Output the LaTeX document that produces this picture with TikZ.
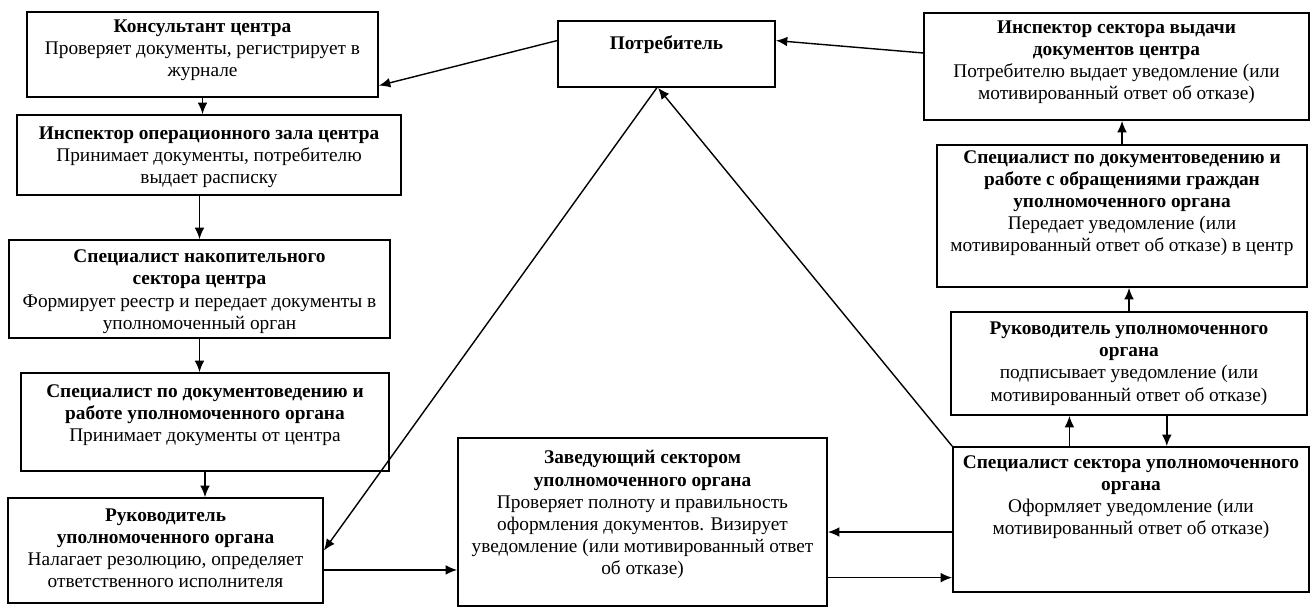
\documentclass[tikz,border=0pt]{standalone}
\usepackage{fontspec}
\setmainfont{Liberation Serif}
\usetikzlibrary{positioning, calc, arrows.meta, fit}

\begin{document}
\begin{tikzpicture}[x=0.02cm, y=-0.02cm,
        box/.style={draw, line width=1pt, inner sep=0pt},
        txt/.style={align=center, inner sep=0pt, font=\fontsize{11}{12.6}\selectfont},
        arr/.style={-{Latex[length=6.5pt,width=5.5pt]}, line width=0.8pt}]
    \useasboundingbox (0,0) rectangle (1311,608);
    % left column
    \node[box, fit={(27,12) (378,97)}] (kons) {};
    \node[txt, below=4.5pt of kons.north] (kons-t) {\textbf{Консультант центра}\\Проверяет документы, регистрирует в\\журнале};
    \node[box, fit={(17,115) (401,195)}] (insp) {};
    \node[txt, below=7pt of insp.north] (insp-t) {\textbf{Инспектор операционного зала центра}\\Принимает документы, потребителю\\выдает расписку};
    \node[box, fit={(9,240) (390,338)}] (nak) {};
    \node[txt, below=6pt of nak.north] (nak-t) {\textbf{Специалист накопительного}\\\textbf{сектора центра}\\Формирует реестр и передает документы в\\уполномоченный орган};
    \node[box, fit={(21,373) (389,471)}] (spdoc) {};
    \node[txt, below=7pt of spdoc.north] (spdoc-t) {\textbf{Специалист по документоведению и}\\\textbf{работе уполномоченного органа}\\Принимает документы от центра};
    \node[box, fit={(8,498) (323,603)}] (ruk) {};
    \node[txt, below=6.5pt of ruk.north] (ruk-t) {\textbf{Руководитель}\\\textbf{уполномоченного органа}\\Налагает резолюцию, определяет\\ответственного исполнителя};
    % middle
    \node[box, fit={(558,21) (775,87)}] (potr) {};
    \node[txt, below=8.5pt of potr.north] (potr-t) {\textbf{Потребитель}};
    \node[box, fit={(458,438) (827,606)}] (zav) {};
    \node[txt, below=7.5pt of zav.north] (zav-t) {\textbf{Заведующий сектором}\\\textbf{уполномоченного органа}\\Проверяет полноту и правильность\\оформления документов. Визирует\\уведомление (или мотивированный ответ\\об отказе)};
    % right column
    \node[box, fit={(924,13) (1309,120)}] (insv) {};
    \node[txt, below=4.5pt of insv.north] (insv-t) {\textbf{Инспектор сектора выдачи}\\\textbf{документов центра}\\Потребителю выдает уведомление (или\\мотивированный ответ об отказе)};
    \node[box, fit={(937,145) (1307,287)}] (obr) {};
    \node[txt, below=3.5pt of obr.north] (obr-t) {\textbf{Специалист по документоведению и}\\\textbf{работе с обращениями граждан}\\\textbf{уполномоченного органа}\\Передает уведомление (или\\мотивированный ответ об отказе) в центр};
    \node[box, fit={(951,312) (1307,415)}] (rukr) {};
    \node[txt, below=6pt of rukr.north] (rukr-t) {\textbf{Руководитель уполномоченного}\\\textbf{органа}\\подписывает уведомление (или\\мотивированный ответ об отказе)};
    \node[box, fit={(953,447) (1309,592)}] (spcs) {};
    \node[txt, below=5pt of spcs.north] (spcs-t) {\textbf{Специалист сектора уполномоченного}\\\textbf{органа}\\Оформляет уведомление (или\\мотивированный ответ об отказе)};
    % arrows
    \draw[arr] (potr.173) -- (kons.-10);
    \draw[arr] (insv.176) -- (potr.7);
    \draw[arr] (kons.south) -- (kons.south |- insp.north);
    \draw[arr] (nak.north |- insp.south) -- (nak.north);
    \draw[arr] (nak.south) -- (nak.south |- spdoc.north);
    \draw[arr] (spdoc.south) -- (spdoc.south |- ruk.north);
    \draw[arr] (ruk.-7) -- (ruk.-7 -| zav.west);
    \draw[arr] (potr.-106) -- (ruk.east);
    \draw[arr] (spcs.north west) -- (potr.-104);
    \draw[arr] (spcs.184) -- (spcs.184 -| zav.east);
    \draw[arr] (spcs.198 -| zav.east) -- (spcs.198);
    \draw[arr] (spcs.130) -- (spcs.130 |- rukr.south);
    \draw[arr] (spcs.64 |- rukr.south) -- (spcs.64);
    \draw[arr] (rukr.north) -- (rukr.north |- obr.south);
    \draw[arr] (obr.north) -- (obr.north |- insv.south);
\end{tikzpicture}
\end{document}
